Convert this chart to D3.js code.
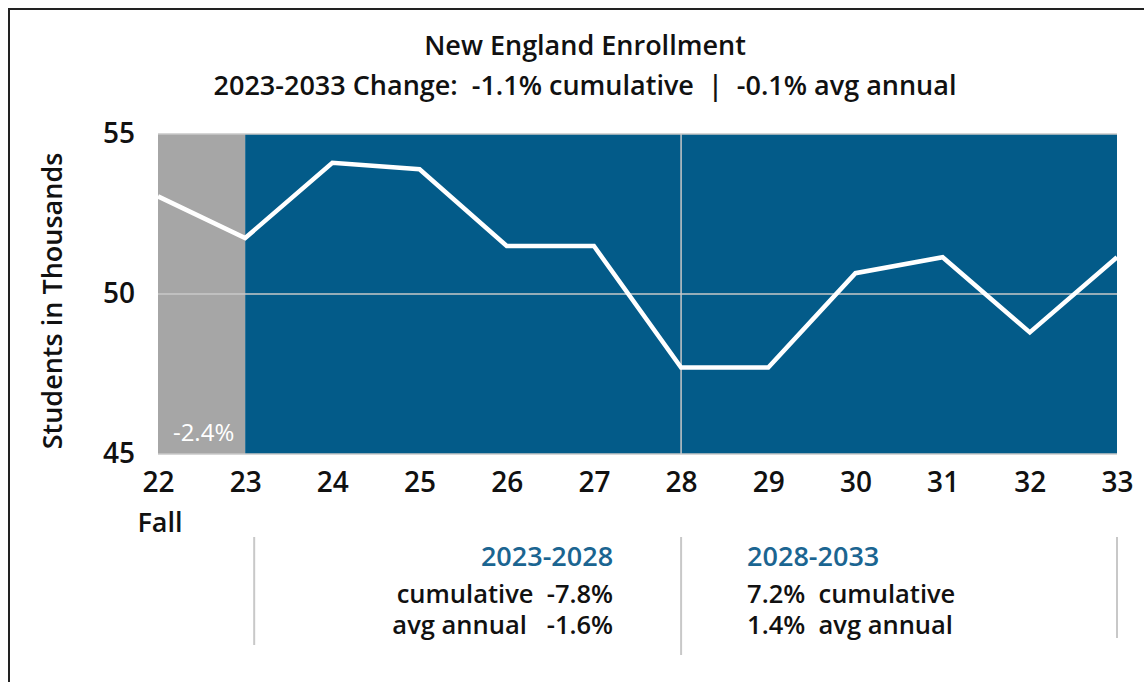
<!DOCTYPE html>
<html>
<head>
<meta charset="utf-8">
<script src="https://cdn.jsdelivr.net/npm/d3@7"></script>
<style>
  body { margin: 0; background: #fff; }
  svg { display: block; font-family: "Open Sans", "Noto Sans", sans-serif; }
</style>
</head>
<body>
<svg id="chart" width="1144" height="682"></svg>
<script>
// data
const years = [22, 23, 24, 25, 26, 27, 28, 29, 30, 31, 32, 33]
const enrollment = [53.05, 51.75, 54.1, 53.9, 51.5, 51.5, 47.7, 47.7, 50.65, 51.15, 48.8, 51.15]
const yTicks = [45, 50, 55]
const titleLines = ['New England Enrollment', '2023-2033 Change:  -1.1% cumulative  |  -0.1% avg annual']
const histNote = '-2.4%'
const periodA = { label: '2023-2028', lines: ['cumulative  -7.8%', 'avg annual   -1.6%'] }
const periodB = { label: '2028-2033', lines: ['7.2%  cumulative', '1.4%  avg annual'] }

const svg = d3.select('#chart')
const margin = { top: 134, right: 27, bottom: 228, left: 158 }
const W = 1144, H = 682
const innerW = W - margin.left - margin.right
const innerH = H - margin.top - margin.bottom

const blue = '#035b89'
const grey = '#a6a6a6'
const ink = '#111'

// scales
const x = d3.scaleLinear().domain([22, 33]).range([0, innerW])
const y = d3.scaleLinear().domain([45, 55]).range([innerH, 0])

// frame
svg.append('path')
    .attr('d', `M9,${H + 5}V9H${W + 5}`)
    .attr('fill', 'none')
    .attr('stroke', '#222')
    .attr('stroke-width', 2)

// title
svg.selectAll('.title')
    .data(titleLines)
    .enter()
    .append('text')
    .attr('x', 585)
    .attr('y', (d, i) => 55 + i * 40)
    .attr('text-anchor', 'middle')
    .attr('font-size', 27)
    .attr('font-weight', 600)
    .attr('fill', ink)
    .style('white-space', 'pre')
    .text(d => d)

const g = svg.append('g')
    .attr('transform', `translate(${margin.left},${margin.top})`)

// background bands
g.append('rect')
    .attr('x', x(22)).attr('y', 0)
    .attr('width', x(23) - x(22)).attr('height', innerH)
    .attr('fill', grey)
g.append('rect')
    .attr('x', x(23)).attr('y', 0)
    .attr('width', x(33) - x(23)).attr('height', innerH)
    .attr('fill', blue)

// gridlines
g.selectAll('.grid')
    .data(yTicks)
    .enter()
    .append('line')
    .attr('x1', 0).attr('x2', innerW)
    .attr('y1', d => y(d)).attr('y2', d => y(d))
    .attr('stroke', '#c8c8c8')
    .attr('stroke-width', 1.5)

// 2028 divider
g.append('line')
    .attr('x1', x(28)).attr('x2', x(28))
    .attr('y1', 0).attr('y2', innerH)
    .attr('stroke', '#c8c8c8')
    .attr('stroke-width', 1.5)

// line
const line = d3.line()
    .x((d, i) => x(years[i]))
    .y(d => y(d))

g.append('path')
    .datum(enrollment)
    .attr('d', line)
    .attr('fill', 'none')
    .attr('stroke', '#fff')
    .attr('stroke-width', 4.5)
    .attr('stroke-linejoin', 'miter')

// history note
g.append('text')
    .attr('x', (x(22) + x(23)) / 2 + 2)
    .attr('y', innerH - 13)
    .attr('text-anchor', 'middle')
    .attr('font-size', 24)
    .attr('fill', '#fff')
    .text(histNote)

// axes
const styleAxis = sel => {
    sel.select('.domain').remove()
    sel.attr('font-family', null).attr('font-size', null)
    sel.selectAll('text')
        .attr('font-size', 28)
        .attr('font-weight', 600)
        .attr('fill', ink)
}

g.append('g')
    .call(d3.axisLeft(y).tickValues(yTicks).tickSize(0).tickPadding(23))
    .call(styleAxis)

g.append('g')
    .attr('transform', `translate(0,${innerH})`)
    .call(d3.axisBottom(x).tickValues(years).tickSize(0).tickPadding(18))
    .call(styleAxis)

svg.append('text')
    .attr('x', 160)
    .attr('y', 532)
    .attr('text-anchor', 'middle')
    .attr('font-size', 27)
    .attr('font-weight', 600)
    .attr('fill', ink)
    .text('Fall')

// y title
svg.append('text')
    .attr('transform', `translate(62,${margin.top + innerH / 2 + 7}) rotate(-90)`)
    .attr('text-anchor', 'middle')
    .attr('font-size', 27)
    .attr('font-weight', 600)
    .attr('fill', ink)
    .text('Students in Thousands')

// period summary
const sepYs = [[23, 537, 645], [28, 537, 655], [33, 537, 638]]
svg.selectAll('.sep')
    .data(sepYs)
    .enter()
    .append('line')
    .attr('x1', d => margin.left + x(d[0]) + (d[0] === 23 ? 9 : 0))
    .attr('x2', d => margin.left + x(d[0]) + (d[0] === 23 ? 9 : 0))
    .attr('y1', d => d[1]).attr('y2', d => d[2])
    .attr('stroke', '#c8c8c8')
    .attr('stroke-width', 2)

const drawPeriod = (p, px, anchor) => {
    svg.append('text')
        .attr('x', px).attr('y', 566)
        .attr('text-anchor', anchor)
        .attr('font-size', 27)
        .attr('font-weight', 600)
        .attr('fill', '#1b6591')
        .text(p.label)
    svg.selectAll(null)
        .data(p.lines)
        .enter()
        .append('text')
        .attr('x', px).attr('y', (d, i) => 603 + i * 31)
        .attr('text-anchor', anchor)
        .attr('font-size', 25.5)
        .attr('font-weight', 600)
        .attr('fill', ink)
        .style('white-space', 'pre')
        .text(d => d)
}
drawPeriod(periodA, margin.left + x(28) - 68, 'end')
drawPeriod(periodB, margin.left + x(28) + 66, 'start')
</script>
</body>
</html>
